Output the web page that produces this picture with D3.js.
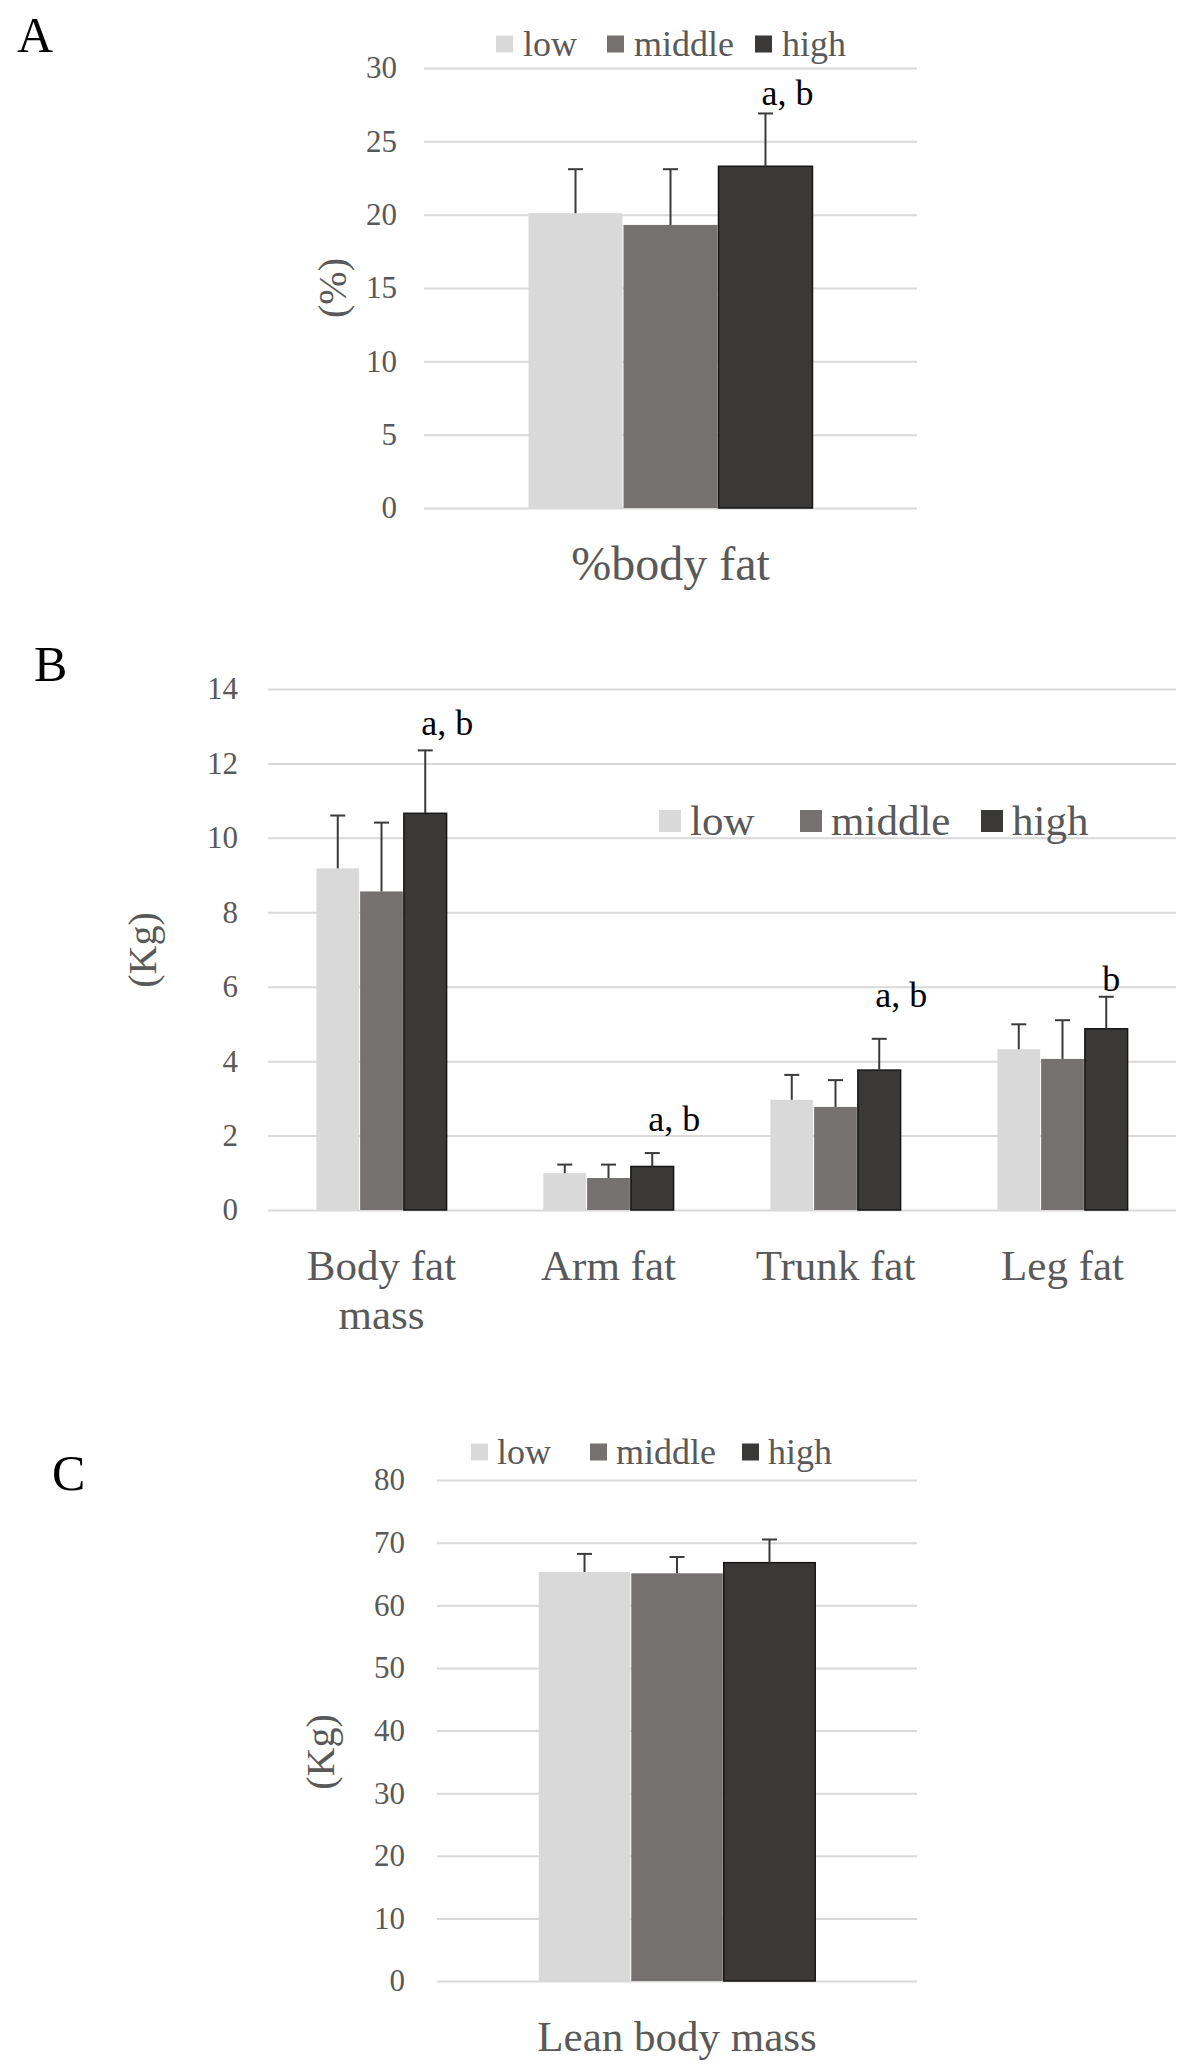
<!DOCTYPE html>
<html>
<head>
<meta charset="utf-8">
<script src="https://cdn.jsdelivr.net/npm/d3@7"></script>
<style>
body { margin: 0; background: #fff; }
text { font-family: "Liberation Serif", "Times New Roman", serif; }
</style>
</head>
<body>
<svg id="chart" width="1181" height="2067"></svg>
<script>
var groups = ["low", "middle", "high"];
var colors = ["#d9d9d9", "#767171", "#3b3838"];

// panel A : %body fat
var catsA = ["%body fat"];
var lowA = [20.1], midA = [19.3], highA = [23.3];
var lowErrA = [3.0], midErrA = [3.8], highErrA = [3.6];
var marksA = ["a, b"];
var ticksA = [0, 5, 10, 15, 20, 25, 30];

// panel B : fat mass by region
var catsB = ["Body fat mass", "Arm fat", "Trunk fat", "Leg fat"];
var lowB = [9.18, 0.99, 2.96, 4.32];
var midB = [8.56, 0.86, 2.77, 4.06];
var highB = [10.66, 1.17, 3.76, 4.87];
var lowErrB = [1.42, 0.23, 0.67, 0.67];
var midErrB = [1.85, 0.36, 0.72, 1.04];
var highErrB = [1.69, 0.36, 0.84, 0.86];
var marksB = ["a, b", "a, b", "a, b", "b"];
var ticksB = [0, 2, 4, 6, 8, 10, 12, 14];

// panel C : lean body mass
var catsC = ["Lean body mass"];
var lowC = [65.3], midC = [65.1], highC = [66.8];
var lowErrC = [2.9], midErrC = [2.6], highErrC = [3.7];
var marksC = [""];
var ticksC = [0, 10, 20, 30, 40, 50, 60, 70, 80];

var FONT = '"Liberation Serif", "Times New Roman", serif';
var GRID = "#d9d9d9";
var GREY_TEXT = "#595959";
var ERR = "#3a3a3a";
var CAP = 15;

var svg = d3.select("#chart");

function wrap(sel, maxW, lineH) {
	sel.each(function() {
		var t = d3.select(this);
		var words = t.text().split(" ");
		t.text(null);
		var line = [];
		var ts = t.append("tspan").attr("x", 0).attr("dy", 0);
		words.forEach(function(w) {
			line.push(w);
			ts.text(line.join(" "));
			if (ts.node().getComputedTextLength() > maxW && line.length > 1) {
				line.pop();
				ts.text(line.join(" "));
				line = [w];
				ts = t.append("tspan").attr("x", 0).attr("dy", lineH).text(w);
			}
		});
	});
}

function drawPanel(p) {
	var g = svg.append("g").attr("font-family", FONT);

	var x0 = d3.scaleBand().domain(p.cats).range([p.left, p.right])
		.paddingInner(0.422).paddingOuter(0.211);
	var x1 = d3.scaleBand().domain(groups).range([0, x0.bandwidth()]);
	var y = d3.scaleLinear().domain([0, d3.max(p.ticks)]).range([p.bottom, p.top]);

	// gridlines + tick labels
	var yAxis = g.append("g")
		.attr("transform", "translate(" + p.left + ",0)")
		.call(d3.axisLeft(y).tickValues(p.ticks).tickSize(-(p.right - p.left)).tickPadding(p.tickPad));
	yAxis.attr("font-family", FONT);
	yAxis.select(".domain").remove();
	yAxis.selectAll(".tick line").attr("stroke", GRID).attr("stroke-width", 2);
	yAxis.selectAll(".tick text")
		.attr("fill", GREY_TEXT)
		.style("font-family", FONT)
		.style("font-size", "31px");

	// category labels
	var xAxis = g.append("g")
		.attr("transform", "translate(0," + (p.bottom + p.labelGap) + ")")
		.call(d3.axisBottom(x0).tickSize(0).tickPadding(0));
	xAxis.attr("font-family", FONT);
	xAxis.select(".domain").remove();
	xAxis.selectAll(".tick text")
		.attr("fill", GREY_TEXT)
		.attr("dy", 0)
		.style("font-family", FONT)
		.style("font-size", p.catFont + "px")
		.call(wrap, x0.step() * 0.95, p.catFont * 1.15);

	// bars
	var rows = p.cats.map(function(c, i) {
		return groups.map(function(gr, j) {
			return { cat: c, grp: gr, v: p.vals[j][i], e: p.errs[j][i], k: j };
		});
	});

	var cg = g.selectAll("g.cat").data(rows).enter().append("g")
		.attr("class", "cat")
		.attr("transform", function(d) { return "translate(" + x0(d[0].cat) + ",0)"; });

	cg.selectAll("rect").data(function(d) { return d; }).enter().append("rect")
		.attr("x", function(d) { return x1(d.grp) + 0.5; })
		.attr("width", x1.bandwidth() - 1)
		.attr("y", function(d) { return y(d.v); })
		.attr("height", function(d) { return y(0) - y(d.v); })
		.attr("fill", function(d) { return colors[d.k]; })
		.attr("stroke", function(d) { return d.k == 2 ? "#161616" : "none"; })
		.attr("stroke-width", 1.5);

	// error bars (upper only)
	var eb = cg.selectAll("g.err").data(function(d) { return d; }).enter().append("g")
		.attr("class", "err")
		.attr("transform", function(d) { return "translate(" + (x1(d.grp) + x1.bandwidth() / 2) + ",0)"; });
	eb.append("line")
		.attr("x1", 0).attr("x2", 0)
		.attr("y1", function(d) { return y(d.v); })
		.attr("y2", function(d) { return y(d.v + d.e); })
		.attr("stroke", ERR).attr("stroke-width", 2);
	eb.append("line")
		.attr("x1", -CAP / 2).attr("x2", CAP / 2)
		.attr("y1", function(d) { return y(d.v + d.e); })
		.attr("y2", function(d) { return y(d.v + d.e); })
		.attr("stroke", ERR).attr("stroke-width", 2);

	// significance marks above the high bar
	cg.append("text")
		.attr("x", function(d) { return x1("high") + x1.bandwidth() / 2 - 4; })
		.attr("y", function(d, i) { return y(d[2].v + d[2].e) - p.markGap[i]; })
		.attr("fill", "#000")
		.style("font-family", FONT)
		.style("font-size", "36px")
		.text(function(d, i) { return p.marks[i]; });

	// y axis title
	g.append("text")
		.attr("transform", "translate(" + p.titleX + "," + p.titleY + ") rotate(-90)")
		.attr("text-anchor", "middle")
		.attr("dy", "0.35em")
		.attr("fill", GREY_TEXT)
		.style("font-family", FONT)
		.style("font-size", "40px")
		.text(p.yTitle);

	// legend
	var lg = g.selectAll("g.leg").data(groups).enter().append("g")
		.attr("class", "leg")
		.attr("transform", function(d, i) { return "translate(" + p.legX[i] + "," + p.legY + ")"; });
	lg.append("rect")
		.attr("x", 0).attr("y", -p.legSize / 2)
		.attr("width", p.legSize).attr("height", p.legSize)
		.attr("fill", function(d, i) { return colors[i]; });
	lg.append("text")
		.attr("x", p.legSize + p.legGap)
		.attr("dy", "0.33em")
		.attr("fill", GREY_TEXT)
		.style("font-family", FONT)
		.style("font-size", p.legFont + "px")
		.text(function(d) { return d; });

	// panel letter
	g.append("text")
		.attr("x", p.letterX).attr("y", p.letterY)
		.attr("fill", "#000")
		.style("font-family", FONT)
		.style("font-size", "50px")
		.text(p.letter);
}

drawPanel({
	letter: "A", letterX: 17, letterY: 52,
	cats: catsA, vals: [lowA, midA, highA], errs: [lowErrA, midErrA, highErrA],
	marks: marksA, markGap: [8], ticks: ticksA,
	left: 424, right: 917, top: 68, bottom: 508,
	tickPad: 27, labelGap: 72, catFont: 48,
	yTitle: "(%)", titleX: 332, titleY: 288,
	legX: [496, 607, 755], legY: 44, legSize: 17, legGap: 10, legFont: 36
});

drawPanel({
	letter: "B", letterX: 34, letterY: 681,
	cats: catsB, vals: [lowB, midB, highB], errs: [lowErrB, midErrB, highErrB],
	marks: marksB, markGap: [15, 22, 32, 6], ticks: ticksB,
	left: 268, right: 1176, top: 689, bottom: 1210,
	tickPad: 30, labelGap: 70, catFont: 43,
	yTitle: "(Kg)", titleX: 142, titleY: 950,
	legX: [659, 800, 981], legY: 821, legSize: 22, legGap: 9, legFont: 43
});

drawPanel({
	letter: "C", letterX: 52, letterY: 1490,
	cats: catsC, vals: [lowC, midC, highC], errs: [lowErrC, midErrC, highErrC],
	marks: marksC, markGap: [10], ticks: ticksC,
	left: 437, right: 917, top: 1480, bottom: 1981,
	tickPad: 32, labelGap: 70, catFont: 43,
	yTitle: "(Kg)", titleX: 320, titleY: 1752,
	legX: [471, 590, 742], legY: 1452, legSize: 17, legGap: 9, legFont: 36
});
</script>
</body>
</html>
